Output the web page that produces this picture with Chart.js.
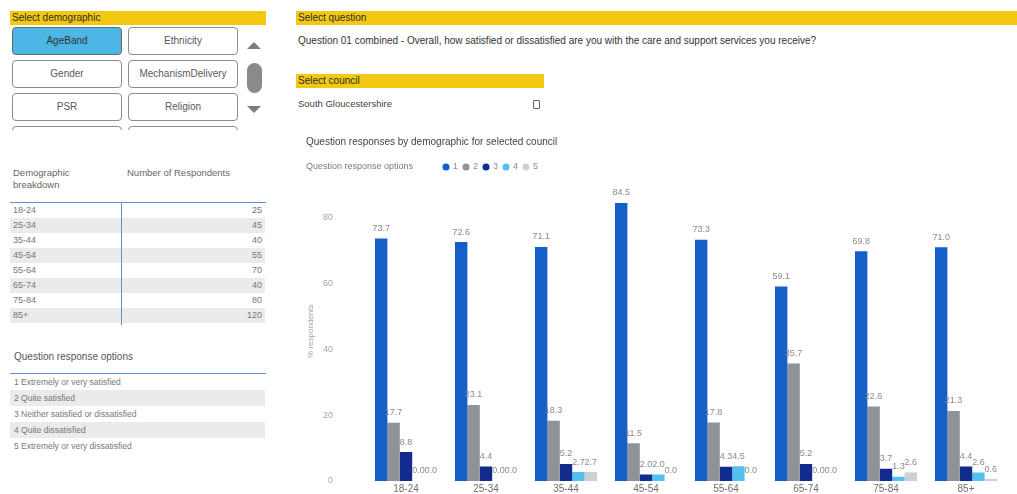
<!DOCTYPE html>
<html>
<head>
<meta charset="utf-8">
<script src="https://cdn.jsdelivr.net/npm/chart.js@4/dist/chart.umd.min.js"></script>
<style>
  html, body { margin: 0; padding: 0; width: 1017px; height: 494px; overflow: hidden; background: #fff;
    font-family: 'Liberation Sans', Arial, sans-serif; }
  .ybar { position: absolute; background: #f2c811; color: #2e2e2e; font-size: 10px; line-height: 13px;
    padding-left: 2px; box-sizing: border-box; }
  .btn { position: absolute; width: 110px; height: 28px; border: 1.5px solid #8c8c8c; border-radius: 4px;
    box-sizing: border-box; font-size: 10px; color: #5a5a5a; text-align: center; line-height: 25px; background: #fff; }
  .btn.on { background: #4cb6e6; border-color: #6a6a6a; color: #333; }
  .txt { position: absolute; white-space: nowrap; }
  .row { position: absolute; left: 10px; width: 255px; box-sizing: border-box; font-size: 9px; color: #777; }
  .row.alt { background: #ebebeb; }
  .row .v { position: absolute; right: 3px; top: 0; }
  #clip { position: absolute; left: 0; top: 27px; width: 245px; height: 103px; overflow: hidden; }
  #chartBox { position: absolute; left: 296px; top: 130px; width: 721px; height: 371px; }
</style>
</head>
<body>
<!-- demographic slicer -->
<div class="ybar" style="left:10px;top:11px;width:256px;height:14px;">Select demographic</div>
<div class="txt" style="left:257px;top:11px;font-size:8px;color:#d9b200;">⌃</div>
<div id="clip"></div>
<div style="position:absolute;left:247px;top:42px;width:0;height:0;border-left:7.5px solid transparent;border-right:7.5px solid transparent;border-bottom:7px solid #7d7d7d;"></div>
<div style="position:absolute;left:247px;top:63px;width:15px;height:30px;border-radius:8px;background:#8a8a8a;"></div>
<div style="position:absolute;left:247px;top:106px;width:0;height:0;border-left:7.5px solid transparent;border-right:7.5px solid transparent;border-top:7px solid #7d7d7d;"></div>

<!-- respondents table -->
<div class="txt" style="left:13px;top:167px;font-size:9.5px;color:#666;line-height:12px;">Demographic<br>breakdown</div>
<div class="txt" style="left:127px;top:167px;font-size:9.5px;color:#666;line-height:12px;">Number of Respondents</div>
<div style="position:absolute;left:10px;top:202px;width:256px;height:1px;background:#5b8fd6;"></div>
<div id="tbl"></div>
<div style="position:absolute;left:121px;top:202px;width:1px;height:123px;background:#5b8fd6;"></div>

<!-- response option key -->
<div class="txt" style="left:14px;top:351px;font-size:10px;color:#555;">Question response options</div>
<div style="position:absolute;left:10px;top:373px;width:256px;height:1px;background:#5b8fd6;"></div>
<div id="opts"></div>

<!-- question and council selectors -->
<div class="ybar" style="left:296px;top:11px;width:721px;height:14px;">Select question</div>
<div class="txt" style="left:298px;top:35px;font-size:10px;color:#333;">Question 01 combined - Overall, how satisfied or dissatisfied are you with the care and support services you receive?</div>
<div class="ybar" style="left:296px;top:74px;width:248px;height:14px;">Select council</div>
<div class="txt" style="left:298px;top:98px;font-size:9.5px;color:#444;">South Gloucestershire</div>
<div style="position:absolute;left:533px;top:100px;width:5px;height:7px;border:1px solid #666;border-radius:1px;"></div>

<div id="chartBox"><canvas id="c" width="721" height="371"></canvas></div>

<script>
// Age bands and the share of respondents giving each answer (%)
const categories = ['18-24', '25-34', '35-44', '45-54', '55-64', '65-74', '75-84', '85+'];
const optionNames = ['1', '2', '3', '4', '5'];
const resp1 = [73.7, 72.6, 71.1, 84.5, 73.3, 59.1, 69.8, 71.0];
const resp2 = [17.7, 23.1, 18.3, 11.5, 17.8, 35.7, 22.6, 21.3];
const resp3 = [8.8, 4.4, 5.2, 2.0, 4.3, 5.2, 3.7, 4.4];
const resp4 = [0.0, 0.0, 2.7, 2.0, 4.5, 0.0, 1.3, 2.6];
const resp5 = [0.0, 0.0, 2.7, 0.0, 0.0, 0.0, 2.6, 0.6];
const respondents = [25, 45, 40, 55, 70, 40, 80, 120];
const yTickValues = [0, 20, 40, 60, 80];
const demographics = ['AgeBand', 'Ethnicity', 'Gender', 'MechanismDelivery', 'PSR', 'Religion', '', ''];
const responseOptions = [
  '1 Extremely or very satisfied',
  '2 Quite satisfied',
  '3 Neither satisfied or dissatisfied',
  '4 Quite dissatisfied',
  '5 Extremely or very dissatisfied'
];
const seriesColors = ['#145fc8', '#8e9398', '#112b8f', '#52c1ee', '#cdd0d3'];

// slicer buttons
const clip = document.getElementById('clip');
demographics.forEach((name, i) => {
  const b = document.createElement('div');
  b.className = 'btn' + (i === 0 ? ' on' : '');
  b.style.left = (i % 2 === 0 ? 12 : 128) + 'px';
  b.style.top = (Math.floor(i / 2) * 33) + 'px';
  b.textContent = name;
  clip.appendChild(b);
});

// respondents table rows
const tbl = document.getElementById('tbl');
categories.forEach((cat, i) => {
  const r = document.createElement('div');
  r.className = 'row' + (i % 2 === 1 ? ' alt' : '');
  r.style.top = (203 + i * 15) + 'px';
  r.style.height = '15px';
  r.style.lineHeight = '15px';
  r.style.paddingLeft = '3px';
  r.innerHTML = cat + '<span class="v">' + respondents[i] + '</span>';
  tbl.appendChild(r);
});

// response option rows
const opts = document.getElementById('opts');
responseOptions.forEach((t, i) => {
  const r = document.createElement('div');
  r.className = 'row' + (i % 2 === 1 ? ' alt' : '');
  r.style.top = (374 + i * 16) + 'px';
  r.style.height = '16px';
  r.style.lineHeight = '16px';
  r.style.paddingLeft = '4px';
  r.style.fontSize = '8.5px';
  r.textContent = t;
  opts.appendChild(r);
});

Chart.defaults.font.family = "'Liberation Sans', Arial, sans-serif";

// caption in front of the legend items
const legendCaption = {
  id: 'legendCaption',
  afterLayout(chart, args, o) {
    if (chart.legend) chart.legend.left += o.indent;
  },
  afterDraw(chart, args, o) {
    const lg = chart.legend;
    const lab = lg.options.labels;
    const ctx = chart.ctx;
    ctx.save();
    ctx.font = lab.font.size + "px 'Liberation Sans', Arial, sans-serif";
    ctx.fillStyle = o.color;
    ctx.textAlign = 'left';
    ctx.textBaseline = 'middle';
    ctx.fillText(o.text, lg.left - o.indent, lg.top + lab.padding + lab.font.size / 2);
    ctx.restore();
  }
};

// value printed above every bar
const valueLabels = {
  id: 'valueLabels',
  afterDatasetsDraw(chart) {
    const ctx = chart.ctx;
    ctx.save();
    ctx.font = "9px 'Liberation Sans', Arial, sans-serif";
    ctx.fillStyle = '#8a8a8a';
    ctx.textAlign = 'center';
    ctx.textBaseline = 'middle';
    chart.data.datasets.forEach((ds, i) => {
      chart.getDatasetMeta(i).data.forEach((bar, j) => {
        ctx.fillText(ds.data[j].toFixed(1), bar.x, bar.y - 10);
      });
    });
    ctx.restore();
  }
};

const seriesData = [resp1, resp2, resp3, resp4, resp5];

new Chart(document.getElementById('c'), {
  type: 'bar',
  data: {
    labels: categories,
    datasets: optionNames.map((n, i) => ({
      label: n,
      data: seriesData[i],
      backgroundColor: seriesColors[i],
      borderWidth: 0,
      categoryPercentage: 0.775,
      barPercentage: 1.0
    }))
  },
  options: {
    responsive: false,
    animation: false,
    devicePixelRatio: 1,
    layout: { padding: { left: 10, right: 11, top: 0, bottom: 0 } },
    plugins: {
      title: {
        display: true,
        text: 'Question responses by demographic for selected council',
        align: 'start',
        color: '#444',
        font: { size: 10, weight: 'normal' },
        padding: { top: 6, bottom: 9 }
      },
      legend: {
        display: true,
        align: 'start',
        labels: {
          usePointStyle: true,
          pointStyle: 'circle',
          boxWidth: 5,
          boxHeight: 5,
          padding: 5.5,
          color: '#8a8a8a',
          font: { size: 9 }
        }
      },
      legendCaption: { indent: 132, text: 'Question response options', color: '#7a7a7a' },
      tooltip: { enabled: false }
    },
    scales: {
      x: {
        grid: { display: false, drawTicks: false },
        border: { display: false },
        ticks: { padding: 2, color: '#6e6e6e', font: { size: 10 } },
        afterFit: s => { s.height = 20; }
      },
      y: {
        min: 0,
        max: 91,
        afterBuildTicks: s => { s.ticks = yTickValues.map(v => ({ value: v })); },
        grid: { display: false, drawTicks: false },
        border: { display: false },
        ticks: { padding: 33, color: '#a3a3a3', font: { size: 9 } },
        title: { display: true, text: '% respondents', color: '#a3a3a3', font: { size: 8 }, padding: { top: 0, bottom: 0 } },
        afterFit: s => { s.width = 60; s.paddingTop = 6; s.paddingBottom = 6; }
      }
    }
  },
  plugins: [legendCaption, valueLabels]
});
</script>
</body>
</html>
